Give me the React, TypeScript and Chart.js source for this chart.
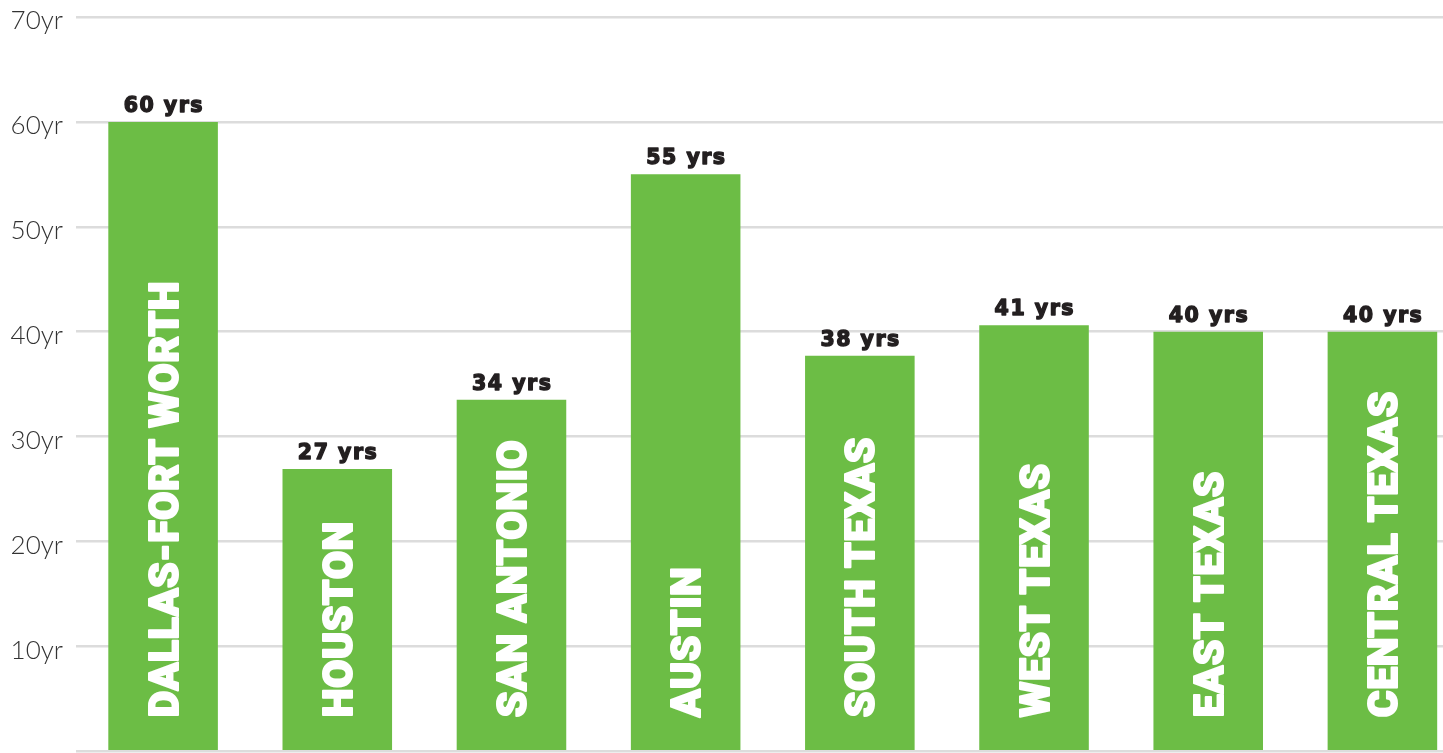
import React, { useEffect, useRef } from "react";
import { Chart, registerables } from "chart.js";

Chart.register(...registerables);

const categories = [
  "DALLAS-FORT WORTH",
  "HOUSTON",
  "SAN ANTONIO",
  "AUSTIN",
  "SOUTH TEXAS",
  "WEST TEXAS",
  "EAST TEXAS",
  "CENTRAL TEXAS",
];
const values = [60, 26.9, 33.5, 55, 37.7, 40.6, 40, 40];
const valueLabels = ["60 yrs", "27 yrs", "34 yrs", "55 yrs", "38 yrs", "41 yrs", "40 yrs", "40 yrs"];
const yTicks = [0, 10, 20, 30, 40, 50, 60, 70];

const GREEN = "#6cbd45";
const W = 1480;
const H = 775;

const labelPlugin = {
  id: "barLabels",
  afterDatasetsDraw(chart: any) {
    const ctx = chart.ctx;
    const meta = chart.getDatasetMeta(0);
    const base = chart.scales.y.getPixelForValue(0);
    meta.data.forEach((bar: any, i: number) => {
      ctx.save();
      // value label
      ctx.font = "bold 20.5px 'DejaVu Sans'";
      ctx.fillStyle = "#231f20";
      ctx.strokeStyle = "#231f20";
      ctx.lineWidth = 1.4;
      ctx.lineJoin = "round";
      ctx.textAlign = "center";
      ctx.textBaseline = "alphabetic";
      try { (ctx as any).letterSpacing = "1.5px"; } catch (e) {}
      ctx.fillText(valueLabels[i], bar.x + 0.75, bar.y - 10);
      ctx.strokeText(valueLabels[i], bar.x + 0.75, bar.y - 10);
      try { (ctx as any).letterSpacing = "0px"; } catch (e) {}
      // category label inside bar, rotated
      ctx.font = "900 41px Roboto";
      ctx.fillStyle = "#ffffff";
      ctx.strokeStyle = "#ffffff";
      ctx.lineWidth = 2;
      ctx.textAlign = "left";
      ctx.textBaseline = "alphabetic";
      try { (ctx as any).letterSpacing = "0.5px"; } catch (e) {}
      const capH = 29;
      ctx.translate(bar.x + capH / 2, base - 34);
      ctx.rotate(-Math.PI / 2);
      ctx.fillText(categories[i], 0, 0);
      ctx.strokeText(categories[i], 0, 0);
      ctx.restore();
    });
  },
};

export default function App() {
  const ref = useRef<HTMLCanvasElement>(null);
  useEffect(() => {
    document.body.style.margin = "0";
    const chart = new Chart(ref.current!, {
      type: "bar",
      data: {
        labels: categories,
        datasets: [
          {
            data: values,
            backgroundColor: GREEN,
            borderWidth: 0,
            categoryPercentage: 1,
            barPercentage: 0.629,
          },
        ],
      },
      options: {
        animation: false,
        responsive: true,
        maintainAspectRatio: false,
        layout: { padding: { left: 0, top: 17, right: W - 1469.5, bottom: H - 751.2 } },
        plugins: { legend: { display: false }, tooltip: { enabled: false } },
        scales: {
          x: { display: false },
          y: {
            min: 0,
            max: 70,
            afterFit: (s: any) => { s.width = 76; },
            afterBuildTicks: (s: any) => { s.ticks = yTicks.map((v) => ({ value: v })); },
            border: { display: false },
            grid: { color: "#dcdcdc", lineWidth: 2.5, drawTicks: false },
            ticks: {
              padding: 13,
              labelOffset: 4,
              color: "#333333",
              font: { family: "Lato", weight: 300 as any, size: 26, lineHeight: 0.2 },
              callback: (v: any) => (v === 0 ? "" : v + "yr"),
            },
          },
        },
      },
      plugins: [labelPlugin],
    });
    return () => chart.destroy();
  }, []);
  return (
    <div style={{ position: "fixed", left: 0, top: 0, width: "100vw", height: "100vh", overflow: "hidden", background: "#fff" }}>
      <div style={{ position: "absolute", left: 0, top: 0, width: W, height: H }}>
        <canvas ref={ref} />
      </div>
    </div>
  );
}
